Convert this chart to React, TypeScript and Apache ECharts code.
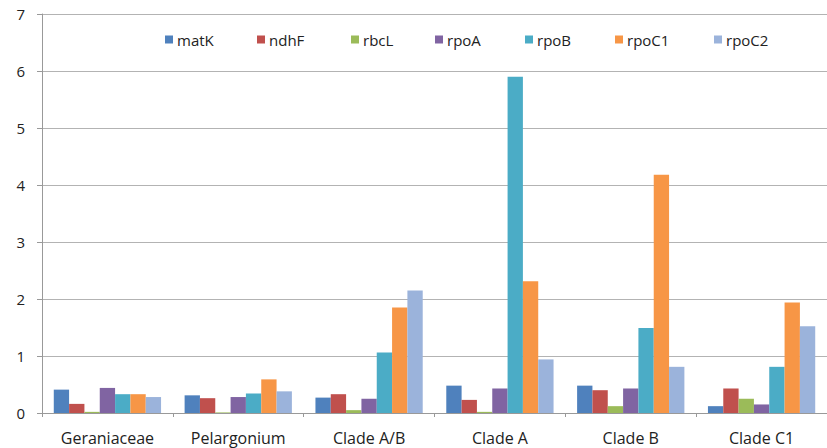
import React, { useEffect, useRef } from "react";
import * as echarts from "echarts";

const categories = ["Geraniaceae", "Pelargonium", "Clade A/B", "Clade A", "Clade B", "Clade C1"];
const seriesNames = ["matK", "ndhF", "rbcL", "rpoA", "rpoB", "rpoC1", "rpoC2"];
const matK = [0.41, 0.31, 0.27, 0.48, 0.48, 0.12];
const ndhF = [0.16, 0.26, 0.33, 0.23, 0.4, 0.43];
const rbcL = [0.02, 0.01, 0.05, 0.02, 0.12, 0.25];
const rpoA = [0.44, 0.28, 0.25, 0.43, 0.43, 0.15];
const rpoB = [0.33, 0.34, 1.06, 5.9, 1.49, 0.81];
const rpoC1 = [0.33, 0.59, 1.85, 2.31, 4.18, 1.94];
const rpoC2 = [0.28, 0.38, 2.15, 0.94, 0.81, 1.52];
const seriesValues = [matK, ndhF, rbcL, rpoA, rpoB, rpoC1, rpoC2];
const colors = ["#4F81BD", "#C0504D", "#9BBB59", "#8064A2", "#4BACC6", "#F79646", "#9BB3DB"];
const legendLefts = [160, 252, 346, 430, 520, 610, 709];

export default function App() {
  const ref = useRef<HTMLDivElement>(null);
  useEffect(() => {
    if (!ref.current) return;
    const chart = echarts.init(ref.current, null, { renderer: "svg" });
    const font = "'Open Sans', sans-serif";
    chart.setOption({
      animation: false,
      textStyle: { fontFamily: font },
      legend: seriesNames.map((n, i) => ({
        data: [n],
        left: legendLefts[i],
        top: 27,
        itemWidth: 8,
        itemHeight: 8,
        itemGap: 0,
        icon: "rect",
        textStyle: { fontSize: 15, color: "#222", fontFamily: font, padding: [2, 0, 0, -1] },
        selectedMode: false,
      })),
      grid: { left: 42, top: 14, width: 798, height: 399, containLabel: false },
      xAxis: {
        type: "category",
        data: categories,
        axisLine: { lineStyle: { color: "#999", width: 1 } },
        axisTick: { show: true, length: 4, lineStyle: { color: "#999" }, alignWithLabel: false },
        axisLabel: { fontSize: 16, color: "#222", margin: 17, fontFamily: font },
        splitLine: { show: false },
      },
      yAxis: {
        type: "value",
        min: 0,
        max: 7,
        interval: 1,
        axisLine: { show: true, lineStyle: { color: "#999", width: 1 } },
        axisTick: { show: true, length: 5, lineStyle: { color: "#999" } },
        axisLabel: { fontSize: 15, color: "#222", margin: 17, fontFamily: font, padding: [6, 0, 0, 0] },
        splitLine: { show: true, lineStyle: { color: "#b3b3b3", width: 1 } },
      },
      series: seriesNames.map((n, i) => ({
        name: n,
        type: "bar",
        data: seriesValues[i],
        barGap: "0%",
        barCategoryGap: "18%",
        itemStyle: { color: colors[i] },
      })),
    });
    return () => chart.dispose();
  }, []);
  return <div ref={ref} style={{ width: 827, height: 448, position: "absolute", left: 0, top: 0 }} />;
}
